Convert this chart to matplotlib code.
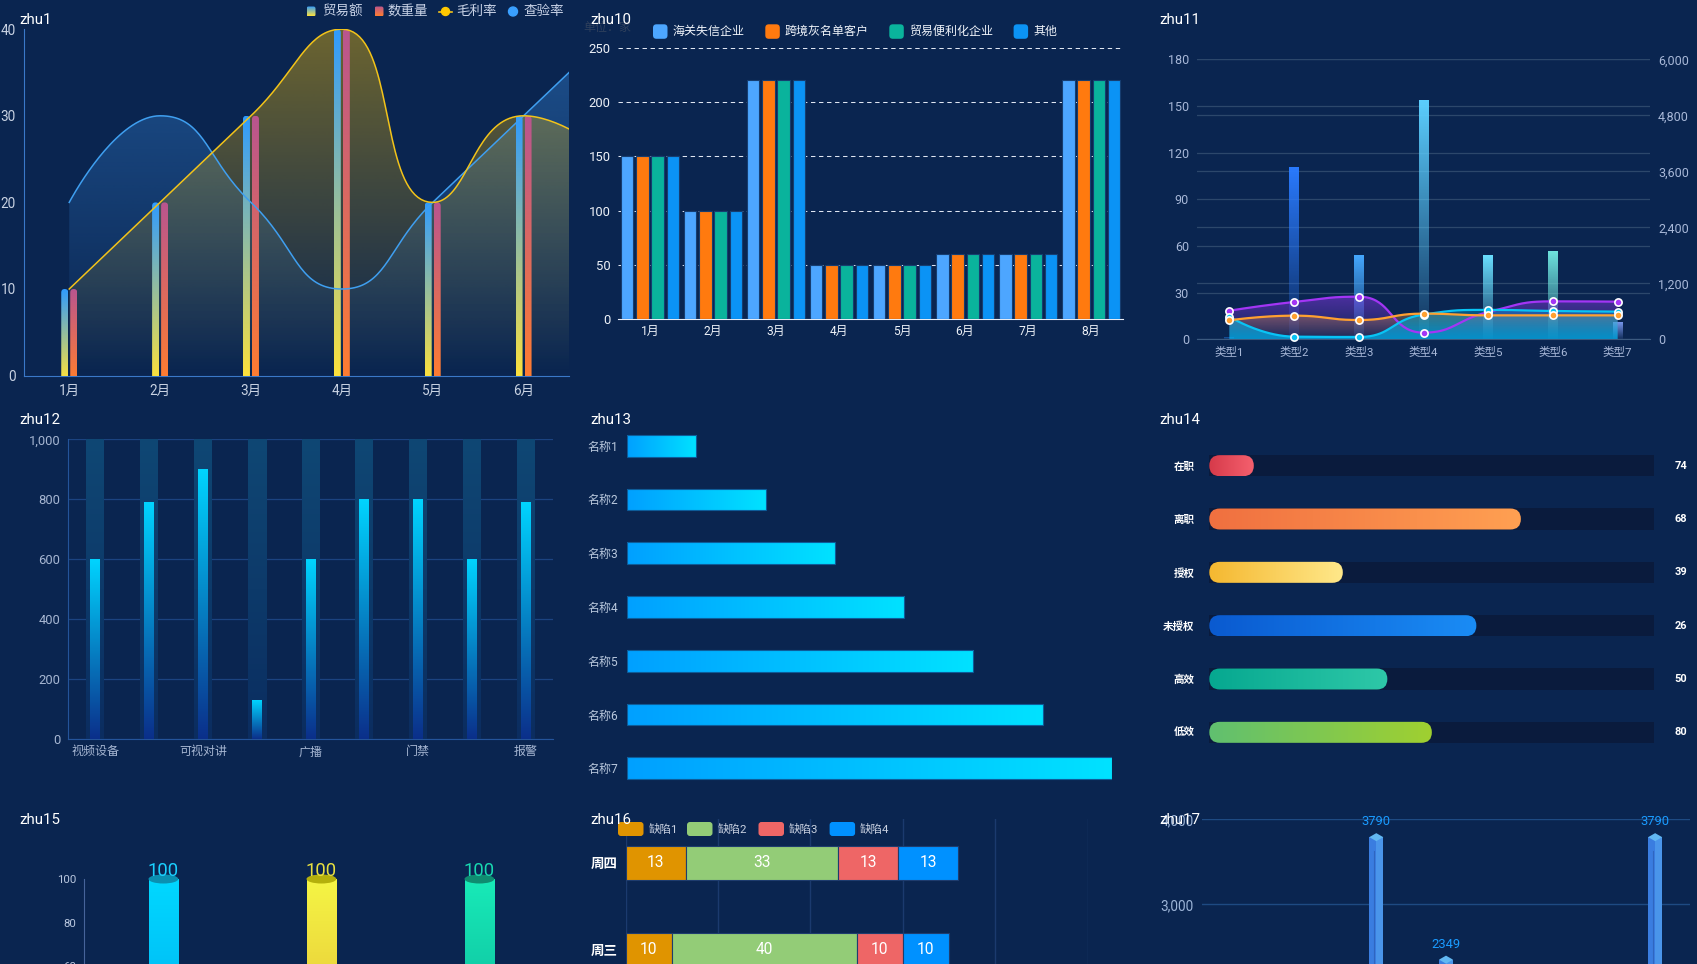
import numpy as np
import matplotlib
matplotlib.use('Agg')
import matplotlib.pyplot as plt
from matplotlib.colors import to_rgba
from matplotlib.patches import FancyBboxPatch, Rectangle, Polygon, Ellipse, Circle
from matplotlib.lines import Line2D
from matplotlib.ticker import FuncFormatter

plt.rcParams['font.family'] = ['Roboto', 'Noto Sans CJK SC', 'DejaVu Sans']
plt.rcParams['axes.unicode_minus'] = False

# ---------------- data ----------------
zhu1_months = ['1月', '2月', '3月', '4月', '5月', '6月', '7月']
zhu1_trade = [10, 20, 30, 40, 20, 30]            # 贸易额
zhu1_qty = [10, 20, 30, 40, 20, 30]              # 数重量
zhu1_margin = [10, 20, 30, 40, 20, 30, 25]       # 毛利率
zhu1_inspect = [20, 30, 20, 10, 20, 30, 40]      # 查验率

zhu10_months = ['1月', '2月', '3月', '4月', '5月', '6月', '7月', '8月']
zhu10_names = ['海关失信企业', '跨境灰名单客户', '贸易便利化企业', '其他']
zhu10_s1 = [150, 100, 220, 50, 50, 60, 60, 220]
zhu10_s2 = [150, 100, 220, 50, 50, 60, 60, 220]
zhu10_s3 = [150, 100, 220, 50, 50, 60, 60, 220]
zhu10_s4 = [150, 100, 220, 50, 50, 60, 60, 220]

zhu11_types = ['类型1', '类型2', '类型3', '类型4', '类型5', '类型6', '类型7']
zhu11_bars = [1.3, 111, 54, 154, 54, 57, 11]
zhu11_purple = [18.4, 24, 27.4, 4.3, 17.5, 24.4, 24.2]
zhu11_orange = [12.2, 15.2, 12.4, 16.5, 15.4, 15.4, 15.4]
zhu11_cyan = [14.6, 1.7, 1.5, 15.9, 18.9, 18.2, 17.8]

zhu12_names = ['视频设备', '门口机', '可视对讲', '室内机', '广播', '音柱', '门禁', '读卡器', '报警']
zhu12_values = [600, 790, 900, 130, 600, 800, 800, 600, 790]
zhu12_max = 1000

zhu13_names = ['名称1', '名称2', '名称3', '名称4', '名称5', '名称6', '名称7']
zhu13_values = [10, 20, 30, 40, 50, 60, 70]

zhu14_names = ['在职', '离职', '授权', '未授权', '高效', '低效']
zhu14_pct = [10, 70, 30, 60, 40, 50]
zhu14_counts = [74, 68, 39, 26, 50, 80]

zhu15_names = ['类目A', '类目B', '类目C']
zhu15_values = [100, 100, 100]

zhu16_days = ['周一', '周二', '周三', '周四']
zhu16_names = ['缺陷1', '缺陷2', '缺陷3', '缺陷4']
zhu16_d1 = [15, 12, 10, 13]
zhu16_d2 = [30, 36, 40, 33]
zhu16_d3 = [15, 12, 10, 13]
zhu16_d4 = [15, 12, 10, 13]

zhu17_cats = ['A', 'B', 'C', 'D', 'E', 'F', 'G']
zhu17_values = [1500, 1800, 3790, 2349, 1600, 1200, 3790]

# ---------------- helpers ----------------
W, H = 1697, 964
BG = '#0a2550'
fig = plt.figure(figsize=(W / 100, H / 100), dpi=100)
fig.patch.set_facecolor(BG)


def P(v):
    return v * 0.72


def add_ax(x0, y0, x1, y1, z=1):
    ax = fig.add_axes([x0 / W, 1 - y1 / H, (x1 - x0) / W, (y1 - y0) / H], zorder=z)
    ax.set_facecolor('none')
    for s in ax.spines.values():
        s.set_visible(False)
    ax.tick_params(length=0)
    ax.set_xticks([])
    ax.set_yticks([])
    return ax


def col(c):
    if isinstance(c, tuple):
        return np.array(to_rgba(c[0], c[1]))
    return np.array(to_rgba(c))


def gradient(ax, extent, c0, c1, horizontal=False, clip=None, zorder=2, n=256):
    a, b = col(c0), col(c1)
    t = np.linspace(0, 1, n)[:, None]
    arr = a * (1 - t) + b * t
    img = arr[None, :, :] if horizontal else arr[:, None, :]
    im = ax.imshow(img, extent=extent, origin='lower', aspect='auto',
                   interpolation='bilinear', zorder=zorder)
    if clip is not None:
        im.set_clip_path(clip)
    return im


def grad_box(ax, x0, y0, w, h, c0, c1, horizontal=False, r_px=0, kx=1, ky=1, zorder=2):
    if r_px > 0:
        p = FancyBboxPatch((x0, y0), w, h, boxstyle=f'round,pad=0,rounding_size={r_px / kx}',
                           mutation_aspect=kx / ky, facecolor='none', edgecolor='none')
    else:
        p = Rectangle((x0, y0), w, h, facecolor='none', edgecolor='none')
    ax.add_patch(p)
    gradient(ax, [x0, x0 + w, y0, y0 + h], c0, c1, horizontal, clip=p, zorder=zorder)
    return p


def ec_smooth(xd, yd, kx, ky, smooth=0.5, nseg=40):
    X = np.asarray(xd, float) * kx
    Y = np.asarray(yd, float) * ky
    n = len(X)
    xs, ys = [X[0]], [Y[0]]
    cpx0, cpy0 = X[0], Y[0]
    for i in range(1, n):
        x, y = X[i], Y[i]
        if i < n - 1:
            px_, py_ = X[i - 1], Y[i - 1]
            nx, ny = X[i + 1], Y[i + 1]
            vx, vy = nx - px_, ny - py_
            l0 = np.hypot(x - px_, y - py_)
            l1 = np.hypot(nx - x, ny - y)
            r = l1 / (l0 + l1)
            ncx = x + vx * smooth * r
            ncy = y + vy * smooth * r
            ncx = min(ncx, max(nx, x)); ncy = min(ncy, max(ny, y))
            ncx = max(ncx, min(nx, x)); ncy = max(ncy, min(ny, y))
            vx, vy = ncx - x, ncy - y
            cpx1 = x - vx * l0 / l1; cpy1 = y - vy * l0 / l1
            cpx1 = min(cpx1, max(px_, x)); cpy1 = min(cpy1, max(py_, y))
            cpx1 = max(cpx1, min(px_, x)); cpy1 = max(cpy1, min(py_, y))
            vx, vy = x - cpx1, y - cpy1
            ncx = x + vx * l1 / l0; ncy = y + vy * l1 / l0
        else:
            cpx1, cpy1 = x, y
            ncx, ncy = x, y
        t = np.linspace(0, 1, nseg)[1:]
        x0, y0 = X[i - 1], Y[i - 1]
        bx = (1 - t) ** 3 * x0 + 3 * (1 - t) ** 2 * t * cpx0 + 3 * (1 - t) * t ** 2 * cpx1 + t ** 3 * x
        by = (1 - t) ** 3 * y0 + 3 * (1 - t) ** 2 * t * cpy0 + 3 * (1 - t) * t ** 2 * cpy1 + t ** 3 * y
        xs.extend(bx); ys.extend(by)
        cpx0, cpy0 = ncx, ncy
    return np.array(xs) / kx, np.array(ys) / ky


def area(ax, xs, ys, c_bot, c_top, zorder):
    poly = Polygon(np.column_stack([np.r_[xs, xs[-1], xs[0]], np.r_[ys, 0, 0]]),
                   closed=True, facecolor='none', edgecolor='none')
    ax.add_patch(poly)
    gradient(ax, [xs.min(), xs.max(), 0, ys.max()], c_bot, c_top, clip=poly, zorder=zorder)


comma = FuncFormatter(lambda v, p: f'{int(v):,}')

# ================= zhu1 =================
ax = add_ax(23.8, 29.2, 569, 375.6)
kx, ky = (569 - 23.8) / 6, (375.6 - 29.2) / 40
xi = np.arange(len(zhu1_margin))
xs_b, ys_b = ec_smooth(xi, zhu1_inspect, kx, ky)
xs_y, ys_y = ec_smooth(xi, zhu1_margin, kx, ky)
area(ax, xs_b, ys_b, ('#3a8fe6', 0.0), ('#3a8fe6', 0.42), 1)
area(ax, xs_y, ys_y, ('#ffc400', 0.0), ('#ffc400', 0.40), 1.1)
bw, off = 7 / kx, 4.5 / kx
for i, v in enumerate(zhu1_trade):
    grad_box(ax, i - off - bw / 2, -4 / ky, bw, v + 4 / ky, '#ffe23a', '#2f9bff',
             r_px=3.5, kx=kx, ky=ky, zorder=3)
for i, v in enumerate(zhu1_qty):
    grad_box(ax, i + off - bw / 2, -4 / ky, bw, v + 4 / ky, '#ff7d30', '#b9558f',
             r_px=3.5, kx=kx, ky=ky, zorder=3)
ax.plot(xs_b, ys_b, color='#3f9ff0', lw=1.1, zorder=5)
ax.plot(xs_y, ys_y, color='#f2c31a', lw=1.1, zorder=5)
for s in ('left', 'bottom'):
    ax.spines[s].set_visible(True)
    ax.spines[s].set_color('#3a78c8')
ax.set_yticks([0, 10, 20, 30, 40])
ax.set_xticks(range(len(zhu1_months)))
ax.set_xticklabels(zhu1_months)
ax.tick_params(axis='y', labelcolor='#c9d3e3', labelsize=P(13.5), pad=P(8))
ax.tick_params(axis='x', labelcolor='#c9d3e3', labelsize=P(13.5), pad=P(8))
ax.set_xlim(-0.5, 5.5)
ax.set_ylim(0, 40)

# ================= zhu10 =================
ax = add_ax(618.4, 47.6, 1122.7, 319.3)
kx = (1122.7 - 618.4) / 8
bw, step = 12.4 / kx, 15.2 / kx
colors10 = ['#4da6ff', '#ff7a0f', '#0ab39c', '#0b93f5']
for j, (vals, c) in enumerate(zip([zhu10_s1, zhu10_s2, zhu10_s3, zhu10_s4], colors10)):
    ax.bar(np.arange(len(zhu10_months)) + (j - 1.5) * step, vals, width=bw, color=c,
           edgecolor='#163d70', linewidth=0.8, zorder=3)
ax.set_yticks(range(0, 251, 50))
ax.yaxis.grid(True, color='#dfe6f2', lw=0.75, ls=(0, (4.2, 3.5)))
ax.set_axisbelow(True)
ax.spines['bottom'].set_visible(True)
ax.spines['bottom'].set_color('#e6ecf6')
ax.set_xticks(range(len(zhu10_months)))
ax.set_xticklabels(zhu10_months)
ax.tick_params(axis='y', labelcolor='#eef2f8', labelsize=P(13), pad=P(8))
ax.tick_params(axis='x', labelcolor='#eef2f8', labelsize=P(12), pad=P(6))
ax.set_xlim(-0.5, 7.5)
ax.set_ylim(0, 250)

# ================= zhu11 =================
ax = add_ax(1197, 59.3, 1650, 339.3, z=3)
axr = ax.twinx()
axr.set_zorder(2)
axr.set_facecolor('none')
for s in axr.spines.values():
    s.set_visible(False)
kx, ky = 453 / 7, 280 / 180
bar_cols = ['#1f6fd0', '#2a7bff', '#45a8ff', '#5ccfff', '#6adfff', '#70e6e0', '#7d9cf5']
bw = 10 / kx
for i, (v, c) in enumerate(zip(zhu11_bars, bar_cols)):
    grad_box(ax, i - bw / 2, 0, bw, v, (c, 0.08), (c, 1.0), zorder=1)
xi = np.arange(len(zhu11_types))
xp, yp = ec_smooth(xi, zhu11_purple, kx, ky)
xo, yo = ec_smooth(xi, zhu11_orange, kx, ky)
xc, yc = ec_smooth(xi, zhu11_cyan, kx, ky)
area(ax, xp, yp, ('#9b3cff', 0.05), ('#9b3cff', 0.45), 2)
area(ax, xo, yo, ('#ffa040', 0.02), ('#ffa040', 0.35), 2.1)
area(ax, xc, yc, ('#00b4f0', 0.75), ('#00c8ff', 0.25), 2.2)
for (xs, ys, vals, c) in [(xp, yp, zhu11_purple, '#a335f5'), (xc, yc, zhu11_cyan, '#08c4f5'),
                          (xo, yo, zhu11_orange, '#ffa030')]:
    ax.plot(xs, ys, color=c, lw=1.6, zorder=3)
    ax.plot(xi, vals, 'o', ms=5.2, mfc=c, mec='white', mew=1.2, zorder=4, clip_on=False)
ax.set_yticks(range(0, 181, 30))
ax.yaxis.grid(True, color='#2c476b', lw=0.9)
ax.set_axisbelow(True)
axr.set_yticks(range(0, 6001, 1200))
axr.yaxis.set_major_formatter(comma)
axr.yaxis.grid(True, color='#2c476b', lw=0.9)
axr.tick_params(length=0, labelcolor='#a8b8d8', labelsize=P(12.5), pad=P(8))
ax.spines['bottom'].set_visible(True)
ax.spines['bottom'].set_color('#3c5a80')
ax.set_xticks(xi)
ax.set_xticklabels(zhu11_types)
ax.tick_params(axis='y', labelcolor='#a8b8d8', labelsize=P(12.5), pad=P(8))
ax.tick_params(axis='x', labelcolor='#a8b8d8', labelsize=P(11.5), pad=P(7))
ax.set_xlim(-0.5, 6.5)
ax.set_ylim(0, 180)
axr.set_ylim(0, 6000)

# ================= zhu12 =================
ax = add_ax(68.4, 439.3, 552.7, 739.3)
kx = (552.7 - 68.4) / 9
for i, v in enumerate(zhu12_values):
    grad_box(ax, i - 9 / kx, 0, 18 / kx, zhu12_max, '#0b2d60', '#0f4774', zorder=1)
    grad_box(ax, i - 5 / kx, 0, 10 / kx, v, '#0b2f8a', '#00d4ff', zorder=3)
ax.set_yticks(range(0, 1001, 200))
ax.yaxis.set_major_formatter(comma)
ax.yaxis.grid(True, color='#1b4380', lw=0.9)
ax.set_axisbelow(True)
for s in ('left', 'bottom'):
    ax.spines[s].set_visible(True)
    ax.spines[s].set_color('#24549a')
ax.set_xticks(range(0, 9, 2))
ax.set_xticklabels(zhu12_names[::2])
ax.tick_params(axis='y', labelcolor='#a6b6d2', labelsize=P(13), pad=P(8))
ax.tick_params(axis='x', labelcolor='#a6b6d2', labelsize=P(12), pad=P(6))
ax.set_xlim(-0.5, 8.5)
ax.set_ylim(0, 1000)

# ================= zhu13 =================
ax = add_ax(627, 418.8, 1112, 795.2)
bh = 21.7 / 53.77
for i, v in enumerate(zhu13_values):
    grad_box(ax, 0, i - bh / 2, v, bh, '#00a0ff', '#00e2ff', horizontal=True, zorder=2)
    ax.add_patch(Rectangle((0, i - bh / 2), v, bh, facecolor='none', edgecolor='#0d5c99',
                           lw=0.8, zorder=3))
ax.set_yticks(range(len(zhu13_names)))
ax.set_yticklabels(zhu13_names)
ax.tick_params(axis='y', labelcolor='#b9c8dd', labelsize=P(12), pad=P(8.5))
ax.set_xlim(0, 70)
ax.set_ylim(6.5, -0.5)

# ================= zhu14 =================
ax = add_ax(1209.3, 439, 1654.4, 759)
kx, ky = 445.1 / 100, 53.33
bh = 21 / ky
grads14 = [('#d63a4a', '#f5606e'), ('#f07040', '#ffa052'), ('#f5b830', '#ffe88a'),
           ('#0a5ad0', '#1a8cf5'), ('#06a890', '#2ec8a8'), ('#60c070', '#a0d030')]
for i, (p, (c0, c1)) in enumerate(zip(zhu14_pct, grads14)):
    ax.barh(i, 100, height=bh, color='#0a1b3d', zorder=1)
    grad_box(ax, 0, i - bh / 2, p, bh, c0, c1, horizontal=True, r_px=10.5, kx=kx, ky=ky, zorder=2)
    ax.text(1.059, i, str(zhu14_counts[i]), transform=ax.get_yaxis_transform(), ha='center',
            va='center', color='white', fontsize=P(11), fontweight='bold')
ax.set_yticks(range(len(zhu14_names)))
ax.set_yticklabels(zhu14_names, fontweight='bold')
ax.tick_params(axis='y', labelcolor='white', labelsize=P(10.5), pad=P(15))
ax.set_xlim(0, 100)
ax.set_ylim(5.5, -0.5)

# ================= zhu15 =================
ax = add_ax(84.4, 879, 558.4, 1097.7)
kx, ky = 158, (1097.7 - 879) / 100
bw = 29.8 / kx
c15 = [('#00a4ee', '#00d8ff', '#0b8fb0', '#1ad0ff'),
       ('#e0b030', '#f5f545', '#b4b00c', '#e8e040'),
       ('#08a890', '#18eab8', '#0f8c70', '#18d8b0')]
for i, (v, (cb, ct, ce, cl)) in enumerate(zip(zhu15_values, c15)):
    grad_box(ax, i - bw / 2, 0, bw, v, cb, ct, zorder=2)
    ax.add_patch(Ellipse((i, v), bw, 9 / ky, facecolor=ce, edgecolor='none', zorder=4, clip_on=False))
    ax.annotate(str(v), (i, v), xytext=(0, P(-1)), textcoords='offset points', ha='center',
                va='bottom', color=cl, fontsize=P(18.5), annotation_clip=False, zorder=5)
ax.spines['left'].set_visible(True)
ax.spines['left'].set_color('#46649a')
ax.set_yticks(range(0, 101, 20))
ax.tick_params(axis='y', labelcolor='#b8c6de', labelsize=P(11.5), pad=P(8))
ax.set_xlim(-0.5, 2.5)
ax.set_ylim(0, 100)

# ================= zhu16 =================
ax = add_ax(625.6, 819.3, 1087.6, 1167.3)
bh = 34.3 / 87
c16 = ['#e09400', '#93cc77', '#ee6666', '#0091ff']
left = np.zeros(len(zhu16_days))
for vals, c in zip([zhu16_d1, zhu16_d2, zhu16_d3, zhu16_d4], c16):
    ax.barh(range(len(zhu16_days)), vals, left=left, height=bh, color=c, edgecolor='#1e3c6e',
            lw=0.8, zorder=3)
    for i, v in enumerate(vals):
        ax.text(left[i] + v / 2, i, str(v), ha='center', va='center', color='white',
                fontsize=P(15.5), zorder=4)
    left = left + np.array(vals)
ax.set_xticks(range(0, 101, 20))
ax.set_xticklabels([])
ax.xaxis.grid(True, color='#1b3a6e', lw=1)
ax.set_axisbelow(True)
ax.set_yticks(range(len(zhu16_days)))
ax.set_yticklabels(zhu16_days, fontweight='bold')
ax.tick_params(axis='y', labelcolor='white', labelsize=P(13.5), pad=P(8))
ax.set_xlim(0, 100)
ax.set_ylim(-0.5, 3.5)

# ================= zhu17 =================
ax = add_ax(1202, 819.3, 1690, 1159.3)
kx, ky = 488 / 7, 340 / 4000
hw = 7 / kx
for i, v in enumerate(zhu17_values):
    ax.add_patch(Rectangle((i - hw, 0), hw, v, facecolor='#3a7de0', edgecolor='none', zorder=2))
    ax.add_patch(Rectangle((i, 0), hw, v, facecolor='#4a95ea', edgecolor='none', zorder=2))
    ax.plot([i - hw * 0.35, i - hw * 0.35], [0, v - 14 / ky], color='#2f66c0', lw=0.8, zorder=2.5)
    ax.add_patch(Polygon([(i - hw, v), (i, v + 4 / ky), (i + hw, v), (i, v - 4 / ky)],
                         closed=True, facecolor='#62b8f2', edgecolor='none', zorder=3))
    ax.annotate(str(v), (i, v), xytext=(0, P(9)), textcoords='offset points', ha='center',
                va='bottom', color='#1a9bff', fontsize=P(13), annotation_clip=False)
ax.set_yticks(range(0, 4001, 1000))
ax.yaxis.set_major_formatter(comma)
ax.yaxis.grid(True, color='#1e4a82', lw=1)
ax.set_axisbelow(True)
ax.tick_params(axis='y', labelcolor='#9db5d8', labelsize=P(13.5), pad=P(8))
ax.set_xlim(-0.5, 6.5)
ax.set_ylim(0, 4000)

# ================= overlay: titles & legends =================
ov = fig.add_axes([0, 0, 1, 1], zorder=20)
ov.axis('off')


def otext(x, y, s, size, color, ha='left', **kw):
    ov.text(x, y, s, fontsize=P(size), color=color, ha=ha, va='center', **kw)


for (x, y, s) in [(19.5, 20, 'zhu1'), (590, 20, 'zhu10'), (1159.5, 20, 'zhu11'),
                  (19.5, 420, 'zhu12'), (590, 420, 'zhu13'), (1159.5, 420, 'zhu14'),
                  (19.5, 820, 'zhu15'), (590, 820, 'zhu16'), (1159.5, 820, 'zhu17')]:
    otext(x, y, s, 15, 'white', zorder=30)
otext(583, 27, '单位：家', 12, '#2f405c', zorder=5)

# zhu1 legend
for (x0, cb, ct) in [(306.5, '#ffe23a', '#2f9bff'), (374.5, '#ff7d30', '#b9558f')]:
    p = FancyBboxPatch((x0, 6.5), 9, 10, boxstyle='round,pad=0,rounding_size=2',
                       facecolor='none', edgecolor='none')
    ov.add_patch(p)
    gradient(ov, [x0, x0 + 9, 16.5, 6.5], cb, ct, clip=p, zorder=5)
ov.add_line(Line2D([439, 452], [11.5, 11.5], color='#f2c31a', lw=1.2))
ov.add_patch(Circle((445.5, 11.5), 4, color='#ffc800', zorder=6))
ov.add_patch(Circle((513, 11.5), 4.5, color='#3aa0ff', zorder=6))
for x, s in [(321.8, '贸易额'), (388, '数重量'), (456, '毛利率'), (523.6, '查验率')]:
    otext(x, 11.3, s, 13.5, '#c8d2e6')

# zhu10 legend
for x0, tx, s, c in [(653, 673, zhu10_names[0], colors10[0]), (765.3, 784.5, zhu10_names[1], colors10[1]),
                     (889.3, 909.3, zhu10_names[2], colors10[2]), (1013.6, 1033, zhu10_names[3], colors10[3])]:
    ov.add_patch(FancyBboxPatch((x0, 24.3), 14.5, 14.5, boxstyle='round,pad=0,rounding_size=3.5',
                                facecolor=c, edgecolor='none'))
    otext(tx, 31.5, s, 12, '#f0f4fa')

# zhu16 legend
for x0, tx, s, c in [(618, 649, zhu16_names[0], c16[0]), (687, 717.5, zhu16_names[1], c16[1]),
                     (758.5, 788.5, zhu16_names[2], c16[2]), (829.6, 860, zhu16_names[3], c16[3])]:
    ov.add_patch(FancyBboxPatch((x0, 822), 25.5, 14, boxstyle='round,pad=0,rounding_size=3',
                                facecolor=c, edgecolor='none', zorder=4))
    otext(tx, 829.5, s, 11.5, '#c8d0e0')

ov.set_xlim(0, W)
ov.set_ylim(H, 0)

fig.savefig('out.png', dpi=100, facecolor=BG)
